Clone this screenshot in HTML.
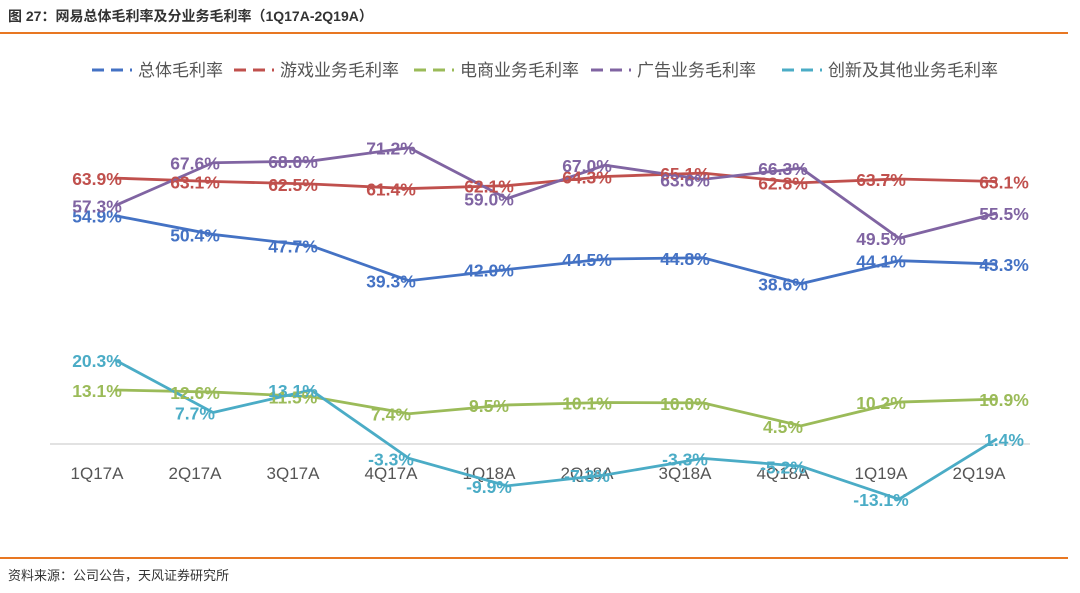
<!DOCTYPE html>
<html><head><meta charset="utf-8"><style>
body{margin:0;background:#fff;font-family:"Liberation Sans","Noto Sans CJK SC",sans-serif;}
svg text{font-family:"Liberation Sans","Noto Sans CJK SC",sans-serif;}
</style></head><body>
<svg id="c" width="1080" height="588">
<text x="8" y="21" font-size="14" font-weight="bold" fill="#333">图 27：网易总体毛利率及分业务毛利率（1Q17A-2Q19A）</text>
<line x1="0" y1="33" x2="1068" y2="33" stroke="#e87722" stroke-width="2"/>
<line x1="0" y1="558" x2="1068" y2="558" stroke="#e87722" stroke-width="2"/>
<text x="8" y="580" font-size="13" fill="#333">资料来源：公司公告，天风证券研究所</text>
<g id="legend"></g>
<line x1="50" y1="444" x2="1030" y2="444" stroke="#d9d9d9" stroke-width="1.5"/>
<g id="xt"></g><g id="lines"></g><g id="labels"></g>
</svg>
<script>
const categories=["1Q17A","2Q17A","3Q17A","4Q17A","1Q18A","2Q18A","3Q18A","4Q18A","1Q19A","2Q19A"];
const seriesNames=["总体毛利率","游戏业务毛利率","电商业务毛利率","广告业务毛利率","创新及其他业务毛利率"];
const colors=["#4472c4","#c0504d","#9bbb59","#8064a2","#4bacc6"];
const totalMargin=[54.9,50.4,47.7,39.3,42.0,44.5,44.8,38.6,44.1,43.3];
const gameMargin=[63.9,63.1,62.5,61.4,62.1,64.3,65.1,62.8,63.7,63.1];
const ecomMargin=[13.1,12.6,11.5,7.4,9.5,10.1,10.0,4.5,10.2,10.9];
const adMargin=[57.3,67.6,68.0,71.2,59.0,67.0,63.6,66.3,49.5,55.5];
const innovMargin=[20.3,7.7,13.1,-3.3,-9.9,-7.3,-3.3,-5.2,-13.1,1.4];
const series=[totalMargin,gameMargin,ecomMargin,adMargin,innovMargin];
const NS="http://www.w3.org/2000/svg";
const xc=i=>97+i*98, xp=i=>xc(i)+18, y=v=>444.6-v*4.17;
const xt=document.getElementById('xt');
categories.forEach((c,i)=>{const t=document.createElementNS(NS,'text');
t.setAttribute('x',xc(i));t.setAttribute('y',479);t.setAttribute('text-anchor','middle');t.setAttribute('font-size','17');t.setAttribute('fill','#555');t.textContent=c;


xt.appendChild(t);});
const lg=document.getElementById('legend');
const tx=[138,280,460,637,828];
seriesNames.forEach((n,k)=>{const g=document.createElementNS(NS,'g');


const lx=tx[k]-46;
g.innerHTML=`<line x1="${lx}" y1="70" x2="${lx+40}" y2="70" stroke="${colors[k]}" stroke-width="3" stroke-dasharray="12,7"/><text x="${tx[k]}" y="76" font-size="17" fill="#555">${n}</text>`;
lg.appendChild(g);});
const L=document.getElementById('lines'),T=document.getElementById('labels');
series.forEach((s,k)=>{const p=document.createElementNS(NS,'polyline');
p.setAttribute('points',s.map((v,i)=>xp(i)+','+y(v)).join(' '));
p.setAttribute('fill','none');p.setAttribute('stroke',colors[k]);p.setAttribute('stroke-width','2.8');


L.appendChild(p);
s.forEach((v,i)=>{const t=document.createElementNS(NS,'text');
t.setAttribute('x',xc(i)+(i==9?25:0));t.setAttribute('y',y(v)+7);t.setAttribute('text-anchor','middle');
t.setAttribute('font-size','17.5');t.setAttribute('font-weight','bold');t.setAttribute('fill',colors[k]);
t.textContent=v.toFixed(1)+'%';


T.appendChild(t);});});
</script>
</body></html>
